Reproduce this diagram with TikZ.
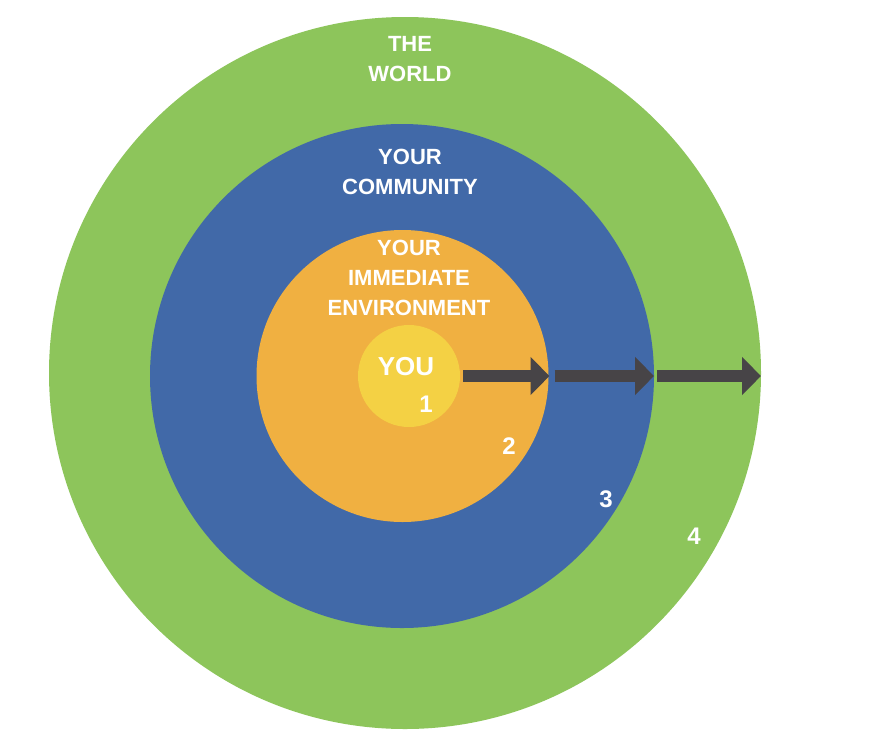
\documentclass[tikz,border=0pt]{standalone}
\usepackage{fontspec}
\setmainfont{Liberation Sans}
\usetikzlibrary{arrows.meta}
\definecolor{worldgreen}{HTML}{8DC55B}
\definecolor{commblue}{HTML}{4169A8}
\definecolor{envorange}{HTML}{F0B041}
\definecolor{youyellow}{HTML}{F4D144}
\definecolor{arrowgray}{HTML}{474447}
\tikzset{
  ring/.style={circle, inner sep=0pt, outer sep=0pt, draw=none, minimum size=#1},
  lbl/.style={text=white, font=\fontsize{22}{26}\selectfont\bfseries, align=center, inner sep=0pt},
  num/.style={text=white, font=\fontsize{24}{28}\selectfont\bfseries, inner sep=0pt},
  outarrow/.style={draw=arrowgray, line width=12pt, -{Triangle[width=37pt,length=19pt]}}
}
\begin{document}
\begin{tikzpicture}[x=1pt,y=-1pt]
\useasboundingbox (0,0) rectangle (880,737);
\fill[white] (0,0) rectangle (880,737);
\node[ring=712pt, fill=worldgreen] (world) at (405,373) {};
\node[ring=504pt, fill=commblue] (comm) at (402,376) {};
\node[ring=292pt, fill=envorange] (env) at (402.5,376) {};
\node[ring=102pt, fill=youyellow] (you) at (409,376) {};
\node[lbl] (tworld) at (410,59) {THE\\[4pt]WORLD};
\node[lbl] (tcomm) at (410,172) {YOUR\\[4pt]COMMUNITY};
\node[lbl] (tenv) at (409,278) {YOUR\\[4pt]IMMEDIATE\\[4pt]ENVIRONMENT};
\node[text=white, font=\fontsize{26}{30}\selectfont\bfseries, inner sep=0pt] (tyou) at (406,367) {YOU};
\node[num] (n1) at (426,404) {1};
\node[num] (n2) at (509,446) {2};
\node[num] (n3) at (606,499) {3};
\node[num] (n4) at (694,536) {4};
\draw[outarrow] ([xshift=3pt]you.east) -- ([xshift=1pt]env.east |- you.east);
\draw[outarrow] ([xshift=6pt]env.east |- you.east) -- (comm.east |- you.east);
\draw[outarrow] ([xshift=3pt]comm.east |- you.east) -- (world.east |- you.east);
\end{tikzpicture}
\end{document}
